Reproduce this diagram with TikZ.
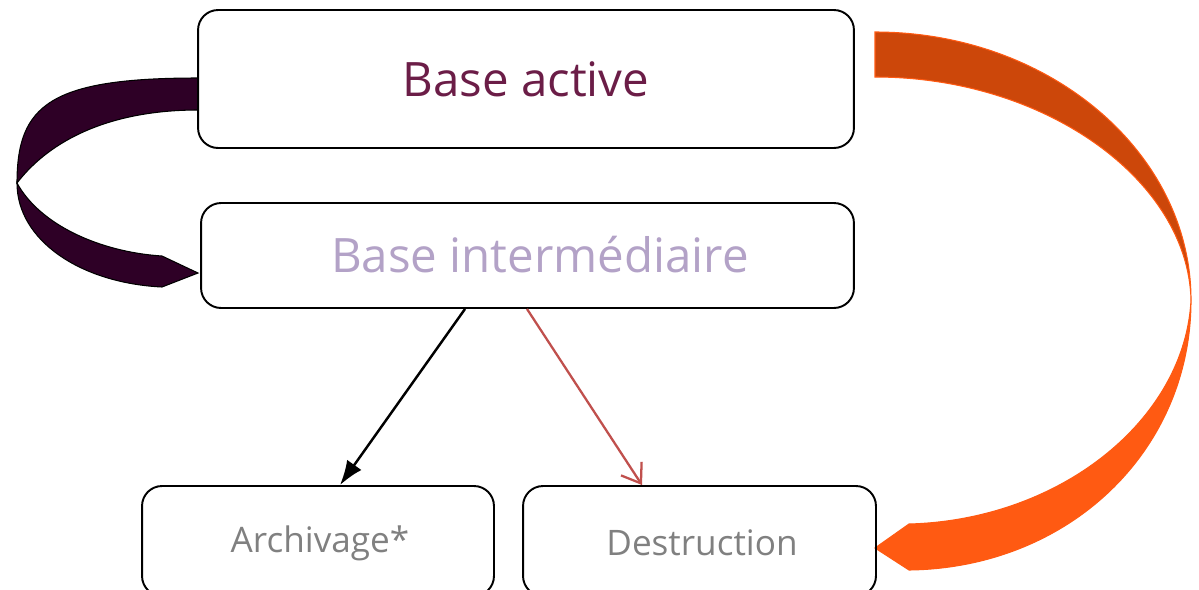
\documentclass[tikz,border=0pt]{standalone}
\usepackage{fontspec}
\setmainfont{Open Sans}
\usepackage{xcolor}
\usepackage{tikz}
\usetikzlibrary{arrows.meta}

\definecolor{actif}{HTML}{6B1D47}
\definecolor{inter}{HTML}{B3A2C7}
\definecolor{gris}{HTML}{808080}
\definecolor{prune}{HTML}{2E0026}
\definecolor{brique}{HTML}{CC470A}
\definecolor{flamme}{HTML}{FF5A12}
\definecolor{brique2}{HTML}{C0504D}

\tikzset{
  boite/.style={draw, line width=1.1pt, rounded corners=0.4cm, inner sep=0pt},
}

\begin{document}
\begin{tikzpicture}[x=0.02cm, y=-0.02cm]
    \useasboundingbox (0,0) rectangle (1199,589);
    % bandes courbes
    \filldraw[fill=prune, draw=black, line width=0.6pt]
      (198,78) .. controls (50,78) and (17,105) .. (17,183)
      .. controls (50,140) and (110,110) .. (198,110) -- cycle;
    \filldraw[fill=prune, draw=black, line width=0.6pt]
      (17,183) .. controls (17,240) and (80,283) .. (162,287)
      -- (198,273) -- (162,256)
      .. controls (100,252) and (40,225) .. (17,183) -- cycle;
    \filldraw[fill=brique, draw=flamme, line width=0.6pt]
      (875,32) .. controls (1049,32) and (1191,152) .. (1191,300)
      .. controls (1188,180) and (1045,77) .. (875,77) -- cycle;
    \filldraw[fill=flamme, draw=flamme, line width=0.6pt]
      (1191,300) .. controls (1191,452) and (1068,568) .. (909,570)
      -- (875,548) -- (909,524)
      .. controls (1060,520) and (1185,420) .. (1191,300) -- cycle;
    % boites
    \node[boite, minimum width=13.12cm, minimum height=2.76cm, text=actif,
      font=\fontsize{27pt}{30pt}\selectfont] (BA) at (526,79) {Base active};
    \node[boite, minimum width=13.06cm, minimum height=2.1cm] (BI) at (527.5,255.5) {};
    \node[text=inter, font=\fontsize{27pt}{30pt}\selectfont] (tBI) at (540,255) {Base intermédiaire};
    \node[boite, minimum width=7.04cm, minimum height=2.2cm, text=gris,
      font=\fontsize{20pt}{23pt}\selectfont] (AR) at (318,541) {};
    \node[text=gris, font=\fontsize{20pt}{23pt}\selectfont] (tAR) at (320,543) {Archivage*};
    \node[boite, minimum width=7.06cm, minimum height=2.2cm] (DE) at (699.5,541) {};
    \node[text=gris, font=\fontsize{20pt}{23pt}\selectfont] (tDE) at (702,543) {Destruction};
    % fleches droites
    \coordinate (a1) at (465,0);
    \coordinate (a2) at (340,0);
    \coordinate (d1) at (527,0);
    \coordinate (d2) at (642,0);
    \draw[-{Latex[length=14pt,width=10pt]}, line width=1.4pt]
      (BI.south -| a1) -- (AR.north -| a2);
    \draw[-{Straight Barb[length=10pt,width=14pt]}, draw=brique2, line width=1.3pt]
      (BI.south -| d1) -- (DE.north -| d2);
\end{tikzpicture}
\end{document}
